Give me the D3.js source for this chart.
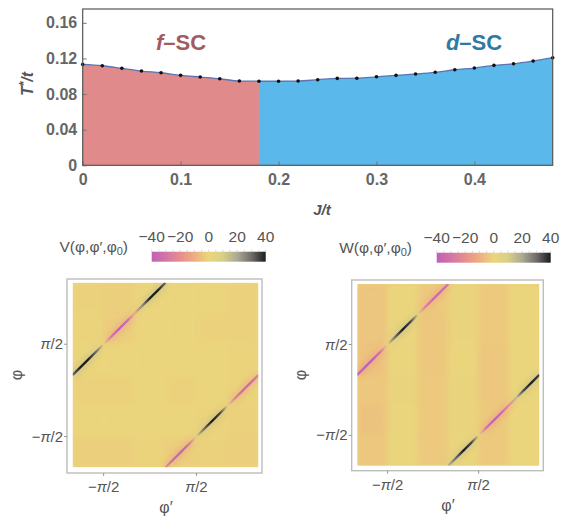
<!DOCTYPE html>
<html>
<head>
<meta charset="utf-8">
<script src="https://cdn.jsdelivr.net/npm/d3@7/dist/d3.min.js"></script>
<style>
  body { margin: 0; background: #fff; }
  svg { font-family: "Liberation Sans", Arial, sans-serif; }
</style>
</head>
<body>
<div id="chart"></div>
<script>
// --- phase diagram: T*/t vs J/t ---
const couplings = [0, 0.02, 0.04, 0.06, 0.08, 0.10, 0.12, 0.14, 0.16, 0.18, 0.20, 0.22, 0.24,
  0.26, 0.28, 0.30, 0.32, 0.34, 0.36, 0.38, 0.40, 0.42, 0.44, 0.46, 0.48];
const critTemps = [0.1133, 0.1118, 0.1089, 0.1058, 0.1039, 0.1010, 0.0991, 0.0972, 0.0946, 0.0944,
  0.0944, 0.0946, 0.0961, 0.0976, 0.0978, 0.0994, 0.1010, 0.1025, 0.1044, 0.1073, 0.1092,
  0.1122, 0.1140, 0.1171, 0.1208];
const phaseBoundary = 0.18;
const couplingTicks = [0, 0.1, 0.2, 0.3, 0.4];
const tempTicks = [0, 0.04, 0.08, 0.12, 0.16];

// --- interaction maps (angles in units of pi) ---
const cellEdges = [-5 / 6, -1 / 2, -1 / 6, 1 / 6, 1 / 2, 5 / 6, 7 / 6];
// background rows listed from top (largest phi) to bottom
const vBackground = [
  [-1, -1.5, 0, 0.5, 0, -1],
  [-0.5, -2, 0, 0.5, -1, -1],
  [0, 0, 0.5, 0, 0, -0.5],
  [-1, -1, 0, -1, 0, -0.5],
  [0, 0, 0, 0, -0.5, -1],
  [-1.5, -1.5, -0.5, -1.5, -1, -1.5]
];
const wBackground = [
  [-4, 0.5, -3, 1, -3, 0],
  [-4, 0.5, -3.5, 1, -3, 0],
  [-5, 0.5, -3.5, 0.5, -3.5, 0.5],
  [-3.5, 1, -3, 1, -3.5, 0],
  [-4.5, 0.5, -3, 1, -3, 0.5],
  [-3.5, 0.5, -3, 0.5, -3, 0]
];
// values along the ridges phi = phi' + pi (A) and phi = phi' - pi (B)
const ridgeA = [-0.833, -0.75, -0.667, -0.583, -0.5, -0.417, -0.333, -0.25, -0.167, -0.083, 0, 0.083, 0.167];
const ridgeB = [0.167, 0.25, 0.333, 0.417, 0.5, 0.583, 0.667, 0.75, 0.833, 0.917, 1.0, 1.083, 1.167];
const vRidgeA = [30, 40, 40, 30, 0, -30, -40, -35, -10, 25, 40, 40, 30];
const vRidgeB = [-20, -35, -40, -30, 5, 30, 40, 35, 5, -25, -35, -35, -25];
const wRidgeA = [-35, -40, -40, -30, 0, 30, 40, 35, 5, -25, -35, -35, -30];
const wRidgeB = [15, 30, 40, 35, 0, -30, -40, -35, -20, 15, 35, 40, 35];
const angleTicks = [-0.5, 0.5];
const barTicks = [-40, -20, 0, 20, 40];

const W = 567, H = 518;
const svg = d3.select('#chart').append('svg').attr('width', W).attr('height', H);
const defs = svg.append('defs');

// ---------- top panel ----------
const x = d3.scaleLinear().domain([0, 0.48]).range([82.7, 552.7]);
const y = d3.scaleLinear().domain([0, 0.1755]).range([165.3, 9]);
const pts = couplings.map((j, i) => ({ j, t: critTemps[i] }));

const area = d3.area().x(d => x(d.j)).y0(y(0)).y1(d => y(d.t)).curve(d3.curveMonotoneX);
svg.append('path').datum(pts.filter(d => d.j <= phaseBoundary + 1e-9))
  .attr('d', area).attr('fill', '#e08a8c');
svg.append('path').datum(pts.filter(d => d.j >= phaseBoundary - 1e-9))
  .attr('d', area).attr('fill', '#5ab8ea');
svg.append('path').datum(pts)
  .attr('d', d3.line().x(d => x(d.j)).y(d => y(d.t)).curve(d3.curveMonotoneX))
  .attr('fill', 'none').attr('stroke', '#5a74b4').attr('stroke-width', 1.3);
svg.append('g').selectAll('circle').data(pts).join('circle')
  .attr('cx', d => x(d.j)).attr('cy', d => y(d.t)).attr('r', 1.8).attr('fill', '#111');

const xAxis = svg.append('g').attr('transform', `translate(0,${y(0)})`)
  .call(d3.axisBottom(x).tickValues(couplingTicks).tickSize(-4).tickPadding(8)
    .tickFormat(d => d === 0 ? '0' : d3.format('.1f')(d)));
const yAxis = svg.append('g').attr('transform', `translate(${x(0)},0)`)
  .call(d3.axisLeft(y).tickValues(tempTicks).tickSize(-4).tickPadding(5.5)
    .tickFormat(d => d === 0 ? '0' : d3.format('.2f')(d)));
[xAxis, yAxis].forEach(g => {
  g.select('.domain').remove();
  g.selectAll('line').attr('stroke', '#777');
  g.selectAll('text').attr('fill', '#666').attr('font-size', 16).attr('font-weight', 'bold');
});
svg.append('rect').attr('x', x(0)).attr('y', y.range()[1])
  .attr('width', x(0.48) - x(0)).attr('height', y(0) - y.range()[1])
  .attr('fill', 'none').attr('stroke', '#555').attr('stroke-width', 1.2);

const yt = svg.append('text').attr('transform', 'translate(33,84) rotate(-90)')
  .attr('text-anchor', 'middle').attr('font-size', 16).attr('font-weight', 'bold')
  .attr('font-style', 'italic').attr('fill', '#555');
yt.append('tspan').text('T');
yt.append('tspan').attr('dy', -5).attr('font-size', 12).text('*');
yt.append('tspan').attr('dy', 5).text('/t');
svg.append('text').attr('x', 322).attr('y', 215).attr('text-anchor', 'middle')
  .attr('font-size', 15).attr('font-weight', 'bold').attr('font-style', 'italic')
  .attr('fill', '#555').text('J/t');

function phaseLabel(cx, letter, color) {
  const t = svg.append('text').attr('x', cx).attr('y', 50).attr('text-anchor', 'middle')
    .attr('font-size', 22).attr('font-weight', 'bold').attr('fill', color);
  t.append('tspan').attr('font-style', 'italic').text(letter);
  t.append('tspan').text('\u2013SC');
}
phaseLabel(181, 'f', '#a35b60');
phaseLabel(474, 'd', '#2f79a2');

// ---------- interaction maps ----------
const colorStops = [-40, -30, -20, -10, 0, 10, 20, 30, 40];
const color = d3.scaleLinear().domain(colorStops)
  .range(['#bf62b6', '#d574a6', '#e68e8f', '#eeae80', '#ebd57c', '#d8cf88', '#aca994', '#6f6d6b', '#1c1c1c'])
  .clamp(true);

const blur = defs.append('filter').attr('id', 'soft').attr('x', '-10%').attr('y', '-10%')
  .attr('width', '120%').attr('height', '120%');
blur.append('feGaussianBlur').attr('stdDeviation', 3);
const glow = defs.append('filter').attr('id', 'glow').attr('x', '-20%').attr('y', '-20%')
  .attr('width', '140%').attr('height', '140%');
glow.append('feGaussianBlur').attr('stdDeviation', 2.5);

function piLabel(sel, v) {
  sel.text(null);
  if (v < 0) sel.append('tspan').text('\u2212');
  sel.append('tspan').attr('font-style', 'italic').text('\u03c0');
  sel.append('tspan').text('/2');
}

function drawMap(id, cfg) {
  const sx = d3.scaleLinear().domain([-5 / 6, 7 / 6]).range(cfg.xr);
  const sy = d3.scaleLinear().domain([-5 / 6, 7 / 6]).range(cfg.yr);
  const g = svg.append('g');

  g.append('rect').attr('x', cfg.frame[0]).attr('y', cfg.frame[1])
    .attr('width', cfg.frame[2]).attr('height', cfg.frame[3])
    .attr('fill', '#fff').attr('stroke', '#bdbdbd').attr('stroke-width', 1.4);

  defs.append('clipPath').attr('id', 'clip-' + id).append('rect')
    .attr('x', cfg.xr[0]).attr('y', cfg.yr[1])
    .attr('width', cfg.xr[1] - cfg.xr[0]).attr('height', cfg.yr[0] - cfg.yr[1]);
  const img = g.append('g').attr('clip-path', `url(#clip-${id})`);
  img.append('rect').attr('x', cfg.xr[0]).attr('y', cfg.yr[1])
    .attr('width', cfg.xr[1] - cfg.xr[0]).attr('height', cfg.yr[0] - cfg.yr[1])
    .attr('fill', color(cfg.base));

  const cells = [];
  cfg.bg.forEach((row, r) => row.forEach((v, c) => {
    cells.push({ x0: cellEdges[c], x1: cellEdges[c + 1], y0: cellEdges[5 - r], y1: cellEdges[6 - r], v });
  }));
  img.append('g').attr('filter', 'url(#soft)').selectAll('rect').data(cells).join('rect')
    .attr('x', d => sx(d.x0) - 0.3).attr('y', d => sy(d.y1) - 0.3)
    .attr('width', d => sx(d.x1) - sx(d.x0) + 0.6).attr('height', d => sy(d.y0) - sy(d.y1) + 0.6)
    .attr('fill', d => color(d.v));

  const ridges = [
    { phis: ridgeA, vals: cfg.ridgeA, shift: 1 },
    { phis: ridgeB, vals: cfg.ridgeB, shift: -1 }
  ];
  ridges.forEach((rd, k) => {
    const p0 = rd.phis[0], p1 = rd.phis[rd.phis.length - 1];
    const x1 = sx(p0), y1 = sy(p0 + rd.shift), x2 = sx(p1), y2 = sy(p1 + rd.shift);
    ['core', 'halo'].forEach(kind => {
      const gid = `grad-${id}-${k}-${kind}`;
      const lg = defs.append('linearGradient').attr('id', gid).attr('gradientUnits', 'userSpaceOnUse')
        .attr('x1', x1).attr('y1', y1).attr('x2', x2).attr('y2', y2);
      rd.phis.forEach((p, i) => {
        const v = kind === 'core' ? rd.vals[i] : rd.vals[i] * 0.4;
        lg.append('stop').attr('offset', (p - p0) / (p1 - p0)).attr('stop-color', color(v));
      });
    });
    img.append('line').attr('x1', x1).attr('y1', y1).attr('x2', x2).attr('y2', y2)
      .attr('stroke', `url(#grad-${id}-${k}-halo)`).attr('stroke-width', 9)
      .attr('opacity', 0.45).attr('filter', 'url(#glow)');
    img.append('line').attr('x1', x1).attr('y1', y1).attr('x2', x2).attr('y2', y2)
      .attr('stroke', `url(#grad-${id}-${k}-core)`).attr('stroke-width', 2.3);
  });

  // ticks and labels
  const fx0 = cfg.frame[0], fyb = cfg.frame[1] + cfg.frame[3];
  g.selectAll('.ty').data(angleTicks).join('line')
    .attr('x1', fx0 - 3).attr('x2', fx0).attr('y1', d => sy(d)).attr('y2', d => sy(d))
    .attr('stroke', '#999');
  g.selectAll('.tx').data(angleTicks).join('line')
    .attr('y1', fyb).attr('y2', fyb + 3).attr('x1', d => sx(d)).attr('x2', d => sx(d))
    .attr('stroke', '#999');
  g.selectAll('.ly').data(angleTicks).join('text')
    .attr('x', fx0 - 4).attr('y', d => sy(d) + 5).attr('text-anchor', 'end')
    .attr('font-size', 15).attr('fill', '#555').each(function (d) { piLabel(d3.select(this), d); });
  g.selectAll('.lx').data(angleTicks).join('text')
    .attr('x', d => sx(d)).attr('y', fyb + 19).attr('text-anchor', 'middle')
    .attr('font-size', 15).attr('fill', '#555').each(function (d) { piLabel(d3.select(this), d); });
  g.append('text').attr('transform', `translate(${cfg.yLab[0]},${cfg.yLab[1]}) rotate(-90)`)
    .attr('text-anchor', 'middle').attr('font-size', 16).attr('fill', '#555').text('\u03c6');
  g.append('text').attr('x', cfg.xLab[0]).attr('y', cfg.xLab[1]).attr('text-anchor', 'middle')
    .attr('font-size', 16).attr('fill', '#555').text('\u03c6\u2032');

  // colour bar
  const bx = d3.scaleLinear().domain([-40, 40]).range(cfg.bar);
  const bg = defs.append('linearGradient').attr('id', 'bar-' + id);
  colorStops.forEach(v => bg.append('stop').attr('offset', (v + 40) / 80).attr('stop-color', color(v)));
  g.append('rect').attr('x', cfg.bar[0]).attr('y', cfg.barY)
    .attr('width', cfg.bar[1] - cfg.bar[0]).attr('height', 10).attr('fill', `url(#bar-${id})`);
  g.selectAll('.mt').data(d3.range(-40, 41, 5)).join('line')
    .attr('x1', d => bx(d)).attr('x2', d => bx(d)).attr('y1', cfg.barY - 2).attr('y2', cfg.barY)
    .attr('stroke', '#ccc').attr('stroke-width', 0.8);
  g.selectAll('.bt').data(barTicks).join('text')
    .attr('x', d => bx(d)).attr('y', cfg.barY - 10).attr('text-anchor', 'middle')
    .attr('font-size', 15.5).attr('fill', '#555')
    .text(d => d < 0 ? '\u2212' + Math.abs(d) : String(d));
  const nm = g.append('text').attr('x', cfg.name[0]).attr('y', cfg.name[1]).attr('text-anchor', 'end')
    .attr('font-size', 15.5).attr('fill', '#555');
  nm.append('tspan').text(cfg.letter + '(\u03c6,\u03c6\u2032,\u03c6');
  nm.append('tspan').attr('font-size', 11).attr('dy', 3).text('0');
  nm.append('tspan').attr('dy', -3).text(')');
}

drawMap('v', {
  xr: [72.7, 258.3], yr: [467.3, 282.7], frame: [67, 279, 195, 194],
  bg: vBackground, base: -0.5, ridgeA: vRidgeA, ridgeB: vRidgeB,
  yLab: [22, 375], xLab: [166, 513],
  bar: [151.7, 265.7], barY: 251.7, name: [128, 252], letter: 'V'
});
drawMap('w', {
  xr: [357.3, 539.3], yr: [465.7, 284], frame: [351.7, 280, 191.6, 190.7],
  bg: wBackground, base: -1.5, ridgeA: wRidgeA, ridgeB: wRidgeB,
  yLab: [306, 375], xLab: [448, 511],
  bar: [436.7, 550.7], barY: 252.7, name: [412, 253], letter: 'W'
});
</script>
</body>
</html>
